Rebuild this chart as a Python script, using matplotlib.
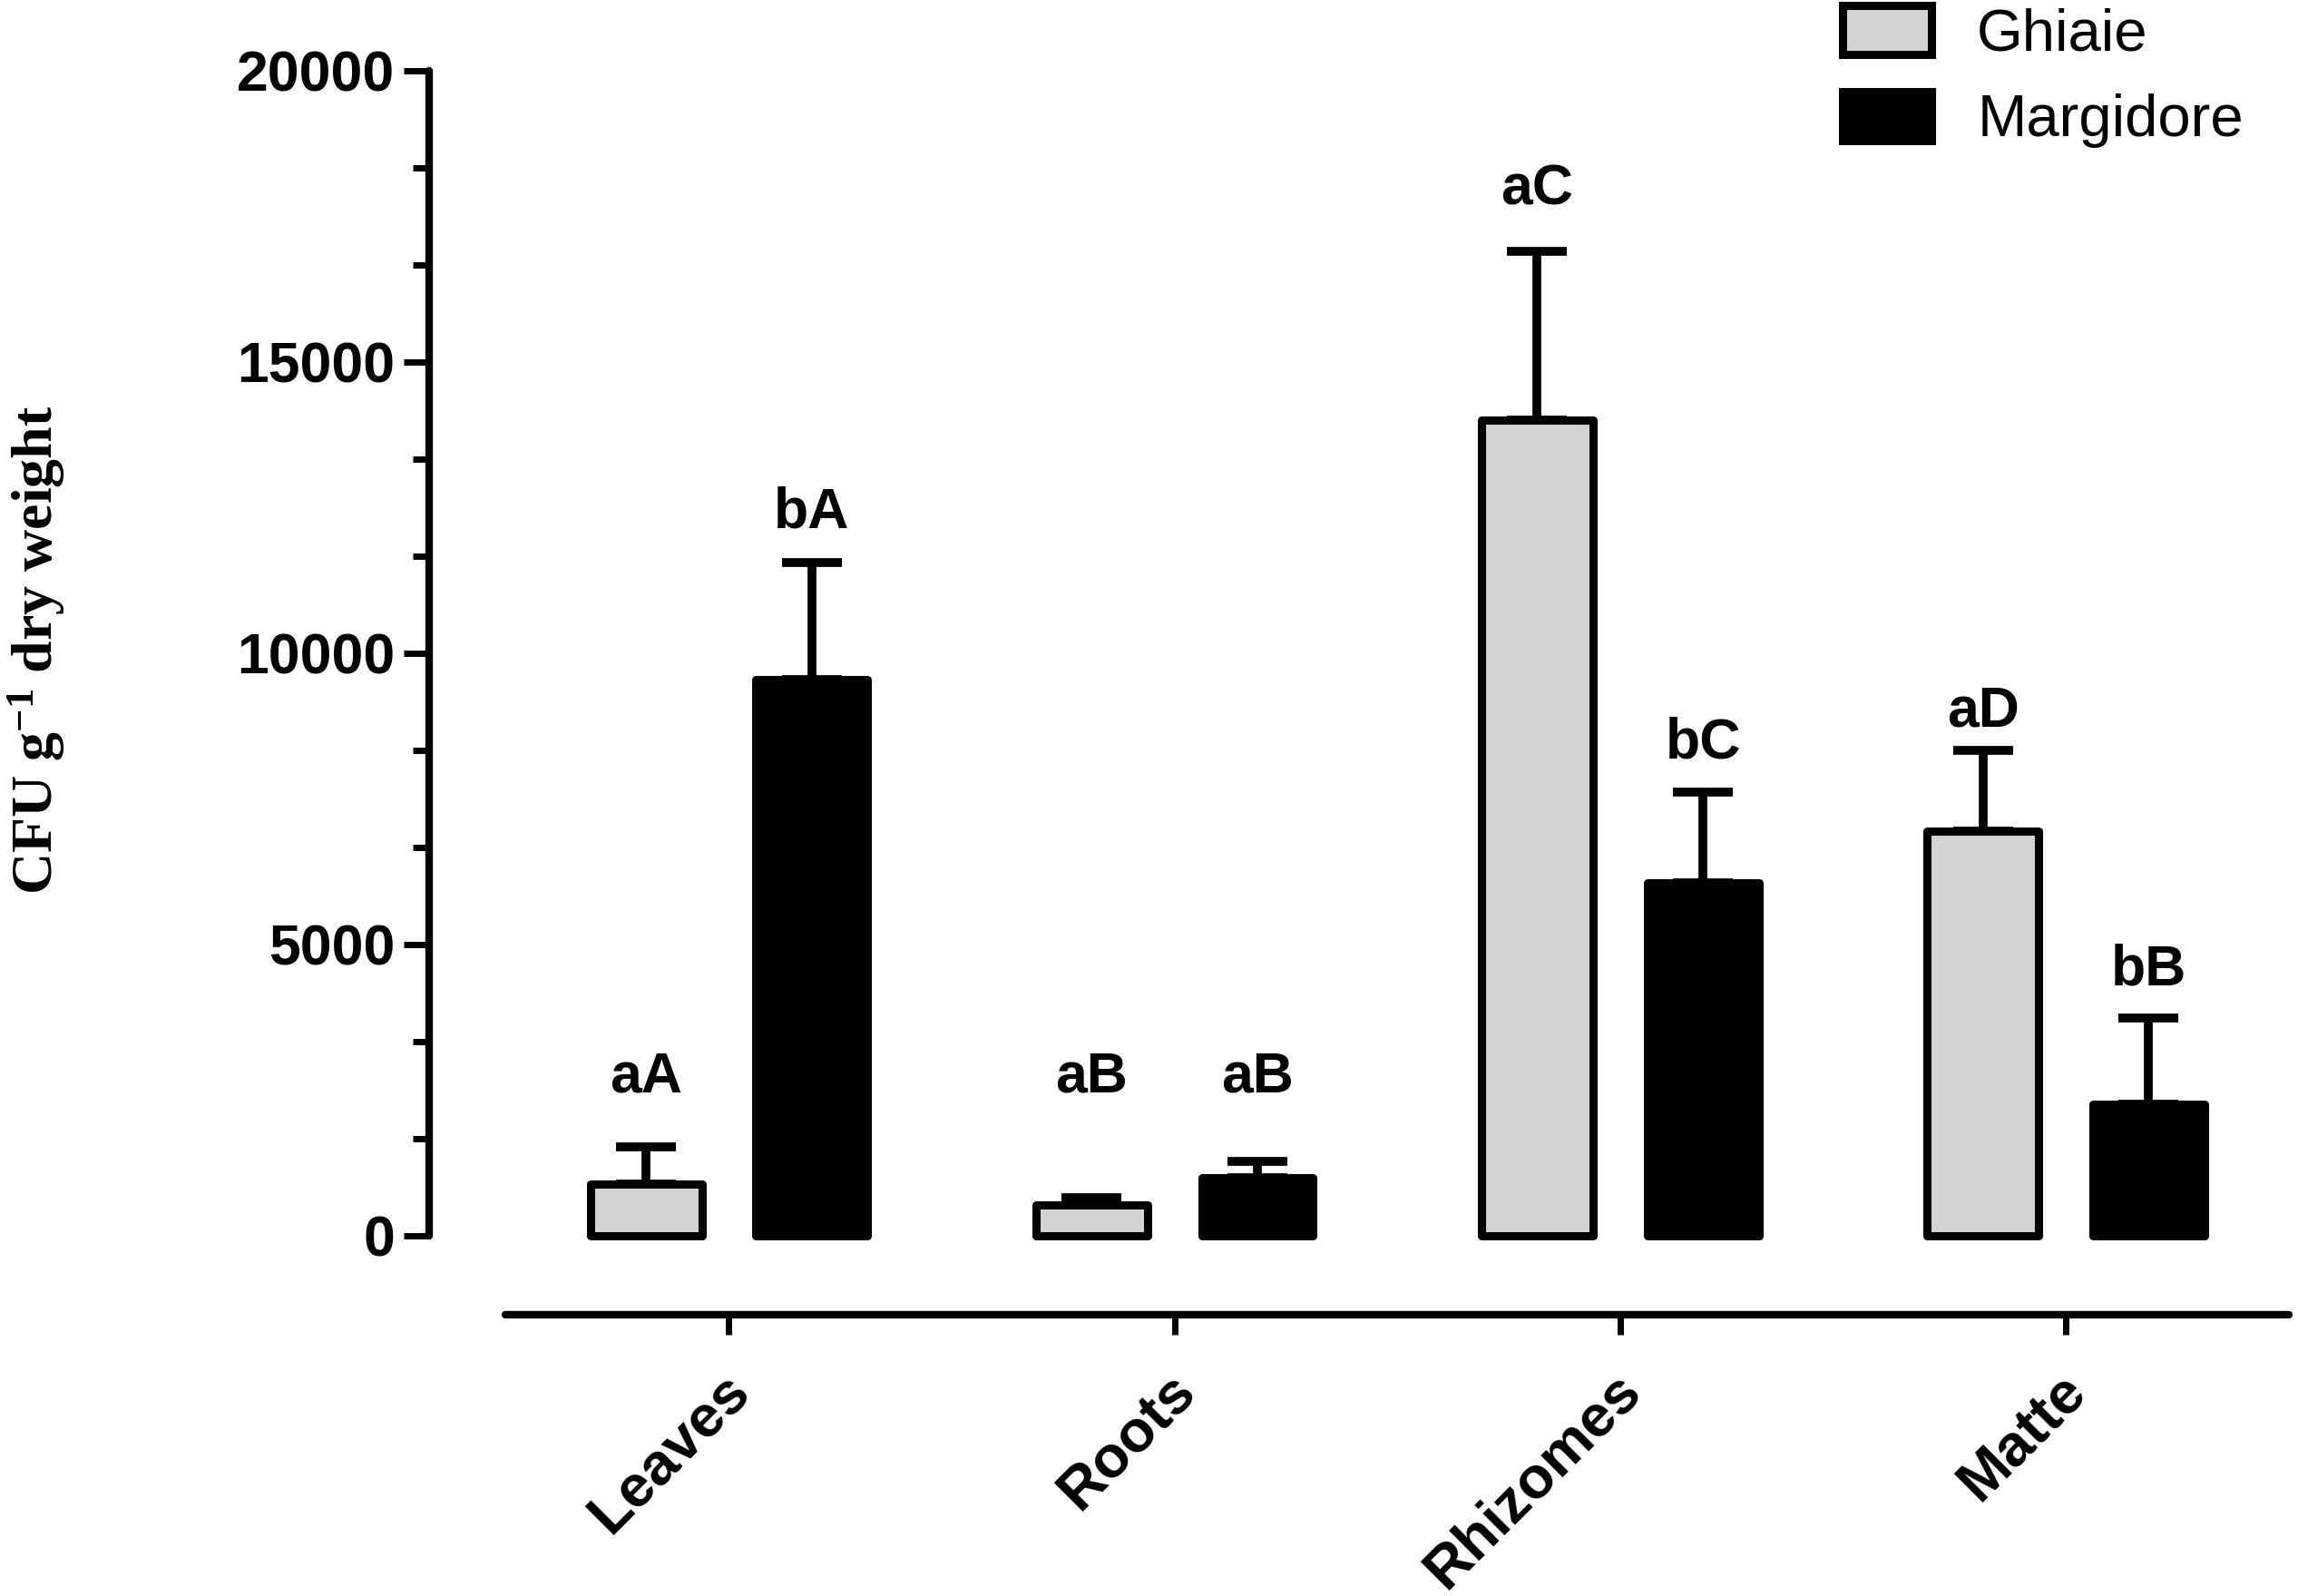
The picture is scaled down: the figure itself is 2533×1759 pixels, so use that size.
import numpy as np
import matplotlib
matplotlib.use("Agg")
import matplotlib.pyplot as plt
from matplotlib.ticker import MultipleLocator
from matplotlib.transforms import ScaledTranslation

plt.rcParams['font.family'] = ['Liberation Sans', 'DejaVu Sans']
plt.rcParams['mathtext.fontset'] = 'custom'
plt.rcParams['mathtext.rm'] = 'Liberation Serif:bold'
plt.rcParams['mathtext.bf'] = 'Liberation Serif:bold'
plt.rcParams['mathtext.it'] = 'Liberation Serif:bold'

# data
categories = ['Leaves', 'Roots', 'Rhizomes', 'Matte']
ghiaie_mean = [880, 530, 14000, 6950]
ghiaie_sd = [650, 120, 2900, 1380]
margidore_mean = [9550, 1000, 6050, 2250]
margidore_sd = [2000, 280, 1570, 1480]
ghiaie_letters = ['aA', 'aB', 'aC', 'aD']
margidore_letters = ['bA', 'aB', 'bC', 'bB']
# heights (CFU) where the letters sit
ghiaie_letter_y = [2470, 2470, 17700, 8750]
margidore_letter_y = [12150, 2470, 8200, 4300]

fig = plt.figure(figsize=(25.33, 17.59), dpi=100)
ax = fig.add_axes([0.1867, 0.2257, 0.8113, 0.7302])

x = np.arange(len(categories))
w = 0.25
off = 0.186

b1 = ax.bar(x - off, ghiaie_mean, w, color='#d3d3d3', edgecolor='black',
            linewidth=6.5, label='Ghiaie', clip_on=False, zorder=3)
b2 = ax.bar(x + off, margidore_mean, w, color='black', edgecolor='black',
            linewidth=6.5, label='Margidore', clip_on=False, zorder=3)
for b in list(b1) + list(b2):
    b.set_joinstyle('round')

for xs, m, s in [(x - off, ghiaie_mean, ghiaie_sd), (x + off, margidore_mean, margidore_sd)]:
    ax.errorbar(xs, m, yerr=[np.zeros(len(s)), s], fmt='none', ecolor='black',
                elinewidth=7, capsize=24, capthick=7, zorder=2, clip_on=False)

for xs, ys, labs in [(x - off, ghiaie_letter_y, ghiaie_letters),
                     (x + off, margidore_letter_y, margidore_letters)]:
    for xi, yi, lab in zip(xs, ys, labs):
        ax.text(xi, yi, lab, ha='center', va='baseline', fontsize=45,
                fontweight='bold')

ax.set_xlim(-0.673, 3.511)
ax.set_ylim(0, 20000)

for side in ['top', 'right']:
    ax.spines[side].set_visible(False)
ax.spines['left'].set_linewidth(6)
ax.spines['left'].set_bounds(0, 20000)
ax.spines['bottom'].set_linewidth(6)
ax.spines['bottom'].set_position(('outward', 62.8))
ax.spines['bottom'].set_bounds(-0.502, 3.50)
ax.spines['left'].set_capstyle('round')
ax.spines['bottom'].set_capstyle('round')

ax.set_yticks([0, 5000, 10000, 15000, 20000])
ax.yaxis.set_minor_locator(MultipleLocator(5000 / 3))
ax.tick_params(axis='y', which='major', length=20, width=5, pad=7, labelsize=45)
ax.tick_params(axis='y', which='minor', length=13, width=5)
for t in ax.get_yticklabels():
    t.set_fontweight('bold')

ax.set_xticks(x)
ax.set_xticklabels(categories, rotation=45, ha='right', va='top',
                   rotation_mode='anchor', fontsize=47, fontweight='bold')
ax.tick_params(axis='x', which='major', length=16, width=5, pad=22)
shift = ScaledTranslation(-6 / 72, 0, fig.dpi_scale_trans)
for t in ax.get_xticklabels():
    t.set_transform(t.get_transform() + shift)

fig.text(40 / 2533, 1 - 716 / 1759, r'CFU g$^{-1}$ dry weight', rotation=90,
         ha='center', va='center', fontsize=46, fontweight='bold',
         family='Liberation Serif')

ax.legend(loc='upper left', bbox_to_anchor=(2031 / 2533, 1 - 6 / 1759),
          bbox_transform=fig.transFigure, frameon=False, fontsize=47,
          handlelength=1.5, handleheight=0.89, handletextpad=0.77,
          labelspacing=0.5, borderpad=0, borderaxespad=0)

fig.savefig('out.png', dpi=100)
